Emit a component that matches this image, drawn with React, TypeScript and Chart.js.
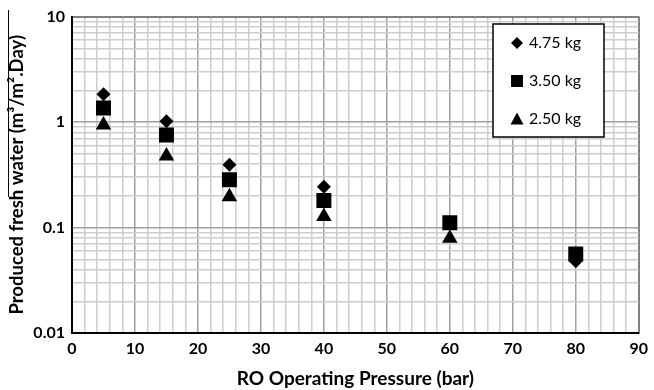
import React, { useEffect, useRef } from "react";
import { Chart, registerables } from "chart.js";
Chart.register(...registerables);

const pressures = [5, 15, 25, 40, 60, 80];
const series475 = [1.84, 1.02, 0.393, 0.244, 0.11, 0.048];
const series350 = [1.36, 0.754, 0.284, 0.18, 0.111, 0.056];
const series250: (number | null)[] = [0.94, 0.478, 0.196, 0.127, 0.079, null];
const seriesLabels = ["4.75 kg", "3.50 kg", "2.50 kg"];
const yTickValues = [
  0.01, 0.02, 0.03, 0.04, 0.05, 0.06, 0.07, 0.08, 0.09,
  0.1, 0.2, 0.3, 0.4, 0.5, 0.6, 0.7, 0.8, 0.9,
  1, 2, 3, 4, 5, 6, 7, 8, 9, 10,
];
const yTickLabels = ["0.01", "0.1", "1", "10"];
const xTickValues = [0, 10, 20, 30, 40, 50, 60, 70, 80, 90];
const xTitle = "RO Operating Pressure (bar)";
const yTitle = "Produced fresh water (m\u00b3/m\u00b2.Day)";

const FONT = "Lato, 'Open Sans', sans-serif";

const isDecade = (v: number) => Math.abs(Math.log10(v) - Math.round(Math.log10(v))) < 1e-9;

const legendPlugin = {
  id: "customLegend",
  afterDraw(chart: any) {
    const ctx = chart.ctx as CanvasRenderingContext2D;
    ctx.save();
    // stray vertical line at far left (present in reference)
    ctx.strokeStyle = "#000";
    ctx.lineWidth = 1;
    ctx.beginPath();
    ctx.moveTo(8.5, 10);
    ctx.lineTo(8.5, 197);
    ctx.stroke();

    const bx = 493, by = 24, bw = 111, bh = 113;
    ctx.fillStyle = "#fff";
    ctx.fillRect(bx, by, bw, bh);
    ctx.strokeStyle = "#000";
    ctx.lineWidth = 1.5;
    ctx.strokeRect(bx, by, bw, bh);

    const mx = 517;
    const ys = [43, 81, 119];
    ctx.fillStyle = "#000";
    // diamond
    ctx.beginPath();
    ctx.moveTo(mx, ys[0] - 6);
    ctx.lineTo(mx + 6, ys[0]);
    ctx.lineTo(mx, ys[0] + 6);
    ctx.lineTo(mx - 6, ys[0]);
    ctx.closePath();
    ctx.fill();
    // square
    ctx.fillRect(mx - 6, ys[1] - 6, 12, 12);
    // triangle
    ctx.beginPath();
    ctx.moveTo(mx, ys[2] - 6.5);
    ctx.lineTo(mx + 6.5, ys[2] + 5.5);
    ctx.lineTo(mx - 6.5, ys[2] + 5.5);
    ctx.closePath();
    ctx.fill();

    ctx.font = `16px ${FONT}`;
    ctx.textBaseline = "middle";
    ctx.textAlign = "left";
    seriesLabels.forEach((t, i) => ctx.fillText(t, 529, ys[i]));
    ctx.restore();
  },
};

export default function App() {
  const ref = useRef<HTMLCanvasElement | null>(null);
  useEffect(() => {
    document.body.style.margin = "0";
    if (!ref.current) return;
    const pts = (vals: (number | null)[]) => pressures.map((x, i) => ({ x, y: vals[i] }));
    const chart = new Chart(ref.current, {
      type: "scatter",
      data: {
        datasets: [
          { label: seriesLabels[1], data: pts(series350) as any, pointStyle: "rect", pointRadius: 10.6, backgroundColor: "#000", borderWidth: 0, order: 0 },
          { label: seriesLabels[0], data: pts(series475) as any, pointStyle: "rectRot", pointRadius: 7, backgroundColor: "#000", borderWidth: 0, order: 1 },
          { label: seriesLabels[2], data: pts(series250) as any, pointStyle: "triangle", pointRadius: 9, backgroundColor: "#000", borderWidth: 0, order: 2 },
        ],
      },
      options: {
        animation: false,
        responsive: false,
        layout: { padding: { left: 0, right: 11, top: 14, bottom: 0 } },
        plugins: { legend: { display: false }, tooltip: { enabled: false } },
        scales: {
          x: {
            type: "linear",
            min: 0,
            max: 90,
            ticks: {
              stepSize: 2,
              autoSkip: false,
              maxRotation: 0,
              padding: 6,
              color: "#000",
              font: { family: FONT, size: 16, weight: "bold" },
              callback: (v: any) => (xTickValues.includes(Number(v)) ? String(v) : ""),
            },
            grid: {
              drawTicks: false,
              color: (c: any) => (c.tick && c.tick.value === 90 ? "#808080" : c.tick && c.tick.value % 10 === 0 ? "#a0a0a0" : "#cdcdcd"),
              lineWidth: (c: any) => (c.tick && c.tick.value === 90 ? 2 : 1.5),
            },
            border: { display: true, color: "#000", width: 2 },
            title: {
              display: true,
              text: xTitle,
              color: "#000",
              font: { family: FONT, size: 19, weight: "bold" },
              padding: { top: 0, bottom: 0 },
            },
            afterFit: (s: any) => { s.height = 57; },
          },
          y: {
            type: "logarithmic",
            min: 0.01,
            max: 10,
            afterBuildTicks: (s: any) => { s.ticks = yTickValues.map((v) => ({ value: v, major: isDecade(v) })); },
            ticks: {
              autoSkip: false,
              padding: 7,
              color: "#000",
              font: { family: FONT, size: 16, weight: "bold" },
              callback: (v: any) => {
                const n = Number(v);
                const idx = [0.01, 0.1, 1, 10].findIndex((d) => Math.abs(d - n) < 1e-9);
                return idx >= 0 ? yTickLabels[idx] : "";
              },
            },
            grid: {
              drawTicks: false,
              color: (c: any) => (c.tick && Math.abs(c.tick.value - 10) < 1e-9 ? "#808080" : c.tick && isDecade(c.tick.value) ? "#a0a0a0" : "#cdcdcd"),
              lineWidth: (c: any) => (c.tick && Math.abs(c.tick.value - 10) < 1e-9 ? 2 : 1.5),
            },
            border: { display: true, color: "#000", width: 2 },
            title: {
              display: true,
              text: yTitle,
              color: "#000",
              font: { family: FONT, size: 18.5, weight: "bold" },
              padding: { top: 6, bottom: 0 },
            },
            afterFit: (s: any) => { s.width = 72; },
          },
        },
      },
      plugins: [legendPlugin],
    });
    return () => chart.destroy();
  }, []);
  return (
    <div style={{ position: "absolute", left: 0, top: 0, width: 654, height: 390, background: "#fff" }}>
      <canvas ref={ref} width={654} height={390} style={{ width: 654, height: 390 }} />
    </div>
  );
}
